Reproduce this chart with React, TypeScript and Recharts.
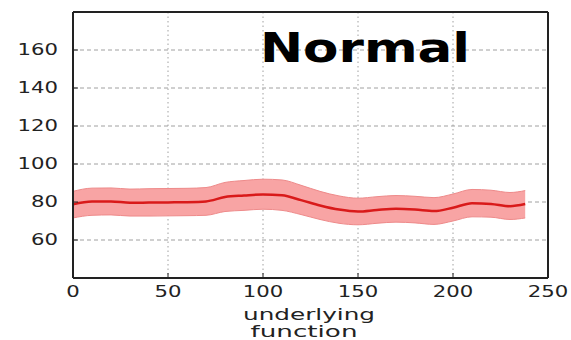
import { ComposedChart, Area, Line, XAxis, YAxis, CartesianGrid } from 'recharts';

const xs = [0, 10, 20, 30, 40, 50, 60, 70, 80, 90, 100, 110, 120, 130, 140, 150, 160, 170, 180, 190, 200, 210, 220, 230, 238];
const meanValues = [78.8, 80.2, 80.3, 79.6, 79.7, 79.8, 79.9, 80.3, 82.6, 83.4, 84.0, 83.5, 81.0, 78.2, 76.0, 75.0, 75.8, 76.4, 76.0, 75.2, 77.0, 79.4, 79.0, 77.8, 78.9];
const upperValues = [85.6, 87.3, 87.4, 86.8, 87.0, 87.1, 87.2, 87.6, 90.3, 91.3, 92.0, 91.6, 88.8, 85.6, 83.2, 82.0, 82.8, 83.4, 83.0, 82.3, 84.2, 86.6, 86.2, 85.0, 86.0];
const lowerValues = [71.6, 73.0, 73.2, 72.6, 72.6, 72.7, 72.8, 73.0, 75.0, 75.6, 76.2, 75.6, 73.4, 70.8, 68.8, 68.0, 68.8, 69.4, 69.0, 68.2, 70.0, 72.2, 72.0, 70.8, 71.6];

const xTicks = [0, 50, 100, 150, 200, 250];
const yTicks = [60, 80, 100, 120, 140, 160];
const title = 'Normal';
const xLabelLines = ['underlying', 'function'];

const data = xs.map((x, i) => ({
  x,
  mean: meanValues[i],
  band: [lowerValues[i], upperValues[i]],
}));

const FONT = '"DejaVu Sans", sans-serif';

// matplotlib-ish labels look horizontally stretched in the picture
const YTick = (props: any) => {
  const label = String(props.payload.value);
  return (
    <text x={58} y={props.y} textAnchor="end" dominantBaseline="central" fontSize={15} fill="#222"
      fontFamily={FONT} textLength={label.length * 13.5} lengthAdjust="spacingAndGlyphs">
      {label}
    </text>
  );
};

const XTick = (props: any) => {
  const label = String(props.payload.value);
  return (
    <text x={props.x} y={297} textAnchor="middle" fontSize={15} fill="#222"
      fontFamily={FONT} textLength={label.length * 13.5} lengthAdjust="spacingAndGlyphs">
      {label}
    </text>
  );
};

const NoTick = () => <g />;

export default function App() {
  return (
    <div style={{ position: 'absolute', left: 0, top: 0, width: 571, height: 340, background: '#fff' }}>
      <ComposedChart width={571} height={340} data={data} margin={{ top: 0, right: 0, bottom: 0, left: 0 }}>
        <CartesianGrid horizontal={true} vertical={false} stroke="#a0a0a0" strokeDasharray="4 3" />
        <CartesianGrid horizontal={false} vertical={true} stroke="#a0a0a0" strokeDasharray="1.5 3" />
        <XAxis dataKey="x" type="number" domain={[0, 250]} ticks={xTicks} height={62}
          axisLine={{ stroke: '#222', strokeWidth: 2 }} tickLine={{ stroke: '#222' }} tickSize={-5}
          tick={<XTick />} />
        <XAxis xAxisId="top" orientation="top" type="number" domain={[0, 250]} ticks={xTicks} height={12}
          axisLine={{ stroke: '#222', strokeWidth: 2 }} tickLine={{ stroke: '#222' }} tickSize={-5}
          tick={<NoTick />} />
        <YAxis type="number" domain={[40, 180]} ticks={yTicks} width={73}
          axisLine={{ stroke: '#222', strokeWidth: 2 }} tickLine={{ stroke: '#222' }} tickSize={-5}
          tick={<YTick />} />
        <YAxis yAxisId="right" orientation="right" type="number" domain={[40, 180]} ticks={yTicks} width={23}
          axisLine={{ stroke: '#222', strokeWidth: 2 }} tickLine={{ stroke: '#222' }} tickSize={-5}
          tick={<NoTick />} />
        <Area dataKey="band" type="monotone" fill="#f8a4a4" fillOpacity={1} stroke="#ee8a8a" strokeWidth={1}
          isAnimationActive={false} />
        <Line dataKey="mean" type="monotone" stroke="#d91a1a" strokeWidth={2.5} dot={false}
          isAnimationActive={false} />
      </ComposedChart>
      <svg width={571} height={340} style={{ position: 'absolute', left: 0, top: 0, pointerEvents: 'none' }}>
        <text x={260} y={62} fontSize={40} fontWeight="bold" fill="#000" fontFamily={FONT}
          textLength={210} lengthAdjust="spacingAndGlyphs">{title}</text>
        <text x={309} y={320} textAnchor="middle" fontSize={15} fill="#222" fontFamily={FONT}
          textLength={132} lengthAdjust="spacingAndGlyphs">{xLabelLines[0]}</text>
        <text x={304} y={337} textAnchor="middle" fontSize={15} fill="#222" fontFamily={FONT}
          textLength={107} lengthAdjust="spacingAndGlyphs">{xLabelLines[1]}</text>
      </svg>
    </div>
  );
}
